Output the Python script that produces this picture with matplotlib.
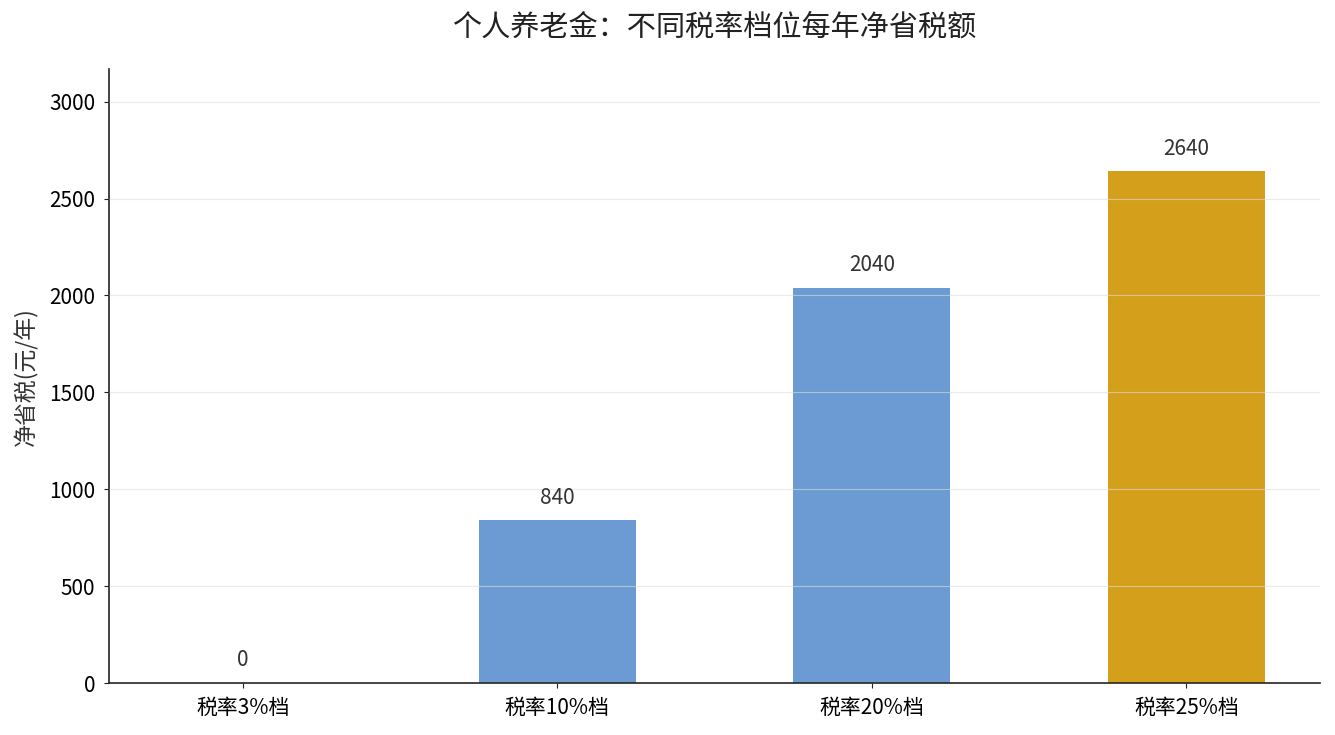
import matplotlib
matplotlib.use("Agg")
import matplotlib.pyplot as plt

plt.rcParams['font.family'] = ['Noto Sans CJK SC', 'DejaVu Sans']

# tax brackets and yearly net tax saved
categories = ['税率3%档', '税率10%档', '税率20%档', '税率25%档']
savings = [0, 840, 2040, 2640]
colors = ['#6b9bd2', '#6b9bd2', '#6b9bd2', '#d4a01c']

fig = plt.figure(figsize=(13.35, 7.35), dpi=100)
ax = fig.add_axes([0.0816, 0.0707, 0.9072, 0.8353])

x = range(len(categories))
bars = ax.bar(x, savings, width=0.5, color=colors, zorder=2)

for xi, v in zip(x, savings):
    ax.text(xi, v + 60, f'{v}', ha='center', va='bottom', fontsize=15, color='#333333')

ax.set_xticks(list(x))
ax.set_xticklabels(categories, fontsize=15)
ax.tick_params(axis='both', labelsize=15, pad=6.5, color='#222222')
ax.set_ylim(0, max(savings) * 1.2)
ax.set_ylabel('净省税(元/年)', fontsize=16.5, color='#333333', labelpad=8)
ax.set_title('个人养老金：不同税率档位每年净省税额', fontsize=21, color='#222222', pad=24)

ax.grid(axis='y', color='#dddddd', alpha=0.6, linewidth=0.8, zorder=3)
ax.set_axisbelow(False)
for s in ['top', 'right']:
    ax.spines[s].set_visible(False)
for s in ['left', 'bottom']:
    ax.spines[s].set_color('#222222')
    ax.spines[s].set_linewidth(1.2)

fig.savefig('out.png', dpi=100)
